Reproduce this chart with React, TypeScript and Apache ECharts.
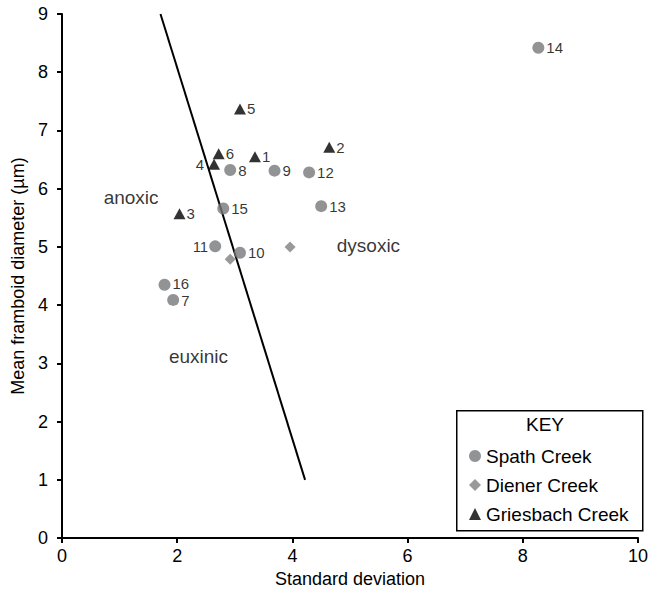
import React, { useEffect, useRef } from "react";
import * as echarts from "echarts";

// ---- data ----
const spathPoints: number[][] = [
  [1.78, 4.35], [1.93, 4.09], [2.92, 6.32], [3.69, 6.31], [3.09, 4.9],
  [2.66, 5.01], [4.29, 6.28], [4.5, 5.7], [8.27, 8.42], [2.8, 5.66],
];
const spathLabels = ["16", "7", "8", "9", "10", "11", "12", "13", "14", "15"];
const dienerPoints: number[][] = [[2.92, 4.79], [3.96, 5.0]];
const griesbachPoints: number[][] = [
  [3.35, 6.55], [4.64, 6.71], [2.04, 5.57], [2.64, 6.42], [3.09, 7.37], [2.72, 6.6],
];
const griesbachLabels = ["1", "2", "3", "4", "5", "6"];
const leftLabelled = ["4", "11"];
const boundaryLine: number[][] = [[1.71, 9], [4.22, 1]];
const regionNames = ["anoxic", "dysoxic", "euxinic"];
const regionPositions: number[][] = [[1.2, 5.85], [5.32, 5.03], [2.37, 3.11]];
const xRange = [0, 10];
const yRange = [0, 9];

const FONT = "'Liberation Sans', Arial, sans-serif";

function labelOffset(name: string) {
  if (name === "16") return [0, -1];
  if (name === "7") return [0, 1];
  return [0, 0];
}

function labelled(points: number[][], labels: string[]) {
  return points.map((p, i) => ({
    value: [p[0], p[1]],
    name: labels[i],
    label: leftLabelled.includes(labels[i])
      ? { position: "left", distance: labels[i] === "4" ? 4 : 1 }
      : { position: "right", offset: labelOffset(labels[i]) },
  }));
}

export default function App() {
  const ref = useRef<HTMLDivElement>(null);
  useEffect(() => {
    if (!ref.current) return;
    const chart = echarts.init(ref.current, undefined, { renderer: "svg" });
    const ptLabel = {
      show: true,
      formatter: (p: any) => p.name,
      fontSize: 15,
      lineHeight: 13,
      fontFamily: FONT,
      color: "#000",
      distance: 2,
    };
    chart.setOption({
      animation: false,
      backgroundColor: "#fff",
      textStyle: { fontFamily: FONT },
      grid: { left: 62, right: 11, top: 14, bottom: 52 },
      xAxis: {
        type: "value",
        min: xRange[0],
        max: xRange[1],
        interval: 2,
        name: "Standard deviation",
        nameLocation: "middle",
        nameGap: 31,
        nameTextStyle: { fontSize: 18, color: "#000", fontFamily: FONT },
        axisLine: { lineStyle: { color: "#000", width: 2 } },
        axisTick: { show: true, length: 5, inside: false, lineStyle: { color: "#000", width: 2 } },
        axisLabel: { fontSize: 18, color: "#000", margin: 9, fontFamily: FONT },
        splitLine: { show: false },
      },
      yAxis: {
        type: "value",
        min: yRange[0],
        max: yRange[1],
        interval: 1,
        name: "Mean framboid diameter (µm)",
        nameLocation: "middle",
        nameRotate: 90,
        nameGap: 33,
        nameTextStyle: { fontSize: 18, color: "#000", fontFamily: FONT },
        axisLine: { show: true, lineStyle: { color: "#000", width: 2 } },
        axisTick: { show: true, length: 5, lineStyle: { color: "#000", width: 2 } },
        axisLabel: { fontSize: 18, color: "#000", margin: 14, fontFamily: FONT },
        splitLine: { show: false },
      },
      legend: {
        orient: "vertical",
        left: 469,
        top: 446,
        padding: 0,
        itemWidth: 12,
        itemHeight: 12,
        itemGap: 9,
        textStyle: { fontSize: 19, color: "#000", fontFamily: FONT, lineHeight: 20 },
        data: ["Spath Creek", "Diener Creek", "Griesbach Creek"],
      },
      graphic: [
        {
          type: "rect",
          left: 456,
          top: 410,
          shape: { width: 186, height: 120 },
          style: { fill: "#fff", stroke: "#000", lineWidth: 1.5 },
          z: 0,
        },
        {
          type: "text",
          left: 526,
          top: 415,
          style: { text: "KEY", fontSize: 19, fill: "#000", fontFamily: FONT },
          z: 1,
        },
      ],
      series: [
        {
          type: "line",
          data: boundaryLine,
          showSymbol: false,
          symbol: "none",
          silent: true,
          lineStyle: { color: "#000", width: 2 },
          z: 1,
        },
        {
          name: "Spath Creek",
          type: "scatter",
          symbol: "circle",
          symbolSize: 12,
          itemStyle: { color: "#77787b" },
          label: ptLabel,
          data: labelled(spathPoints, spathLabels),
          z: 3,
        },
        {
          name: "Diener Creek",
          type: "scatter",
          symbol: "diamond",
          symbolSize: 11,
          itemStyle: { color: "#808080" },
          data: dienerPoints,
          z: 3,
        },
        {
          name: "Griesbach Creek",
          type: "scatter",
          symbol: "triangle",
          symbolSize: [12, 11],
          itemStyle: { color: "#000" },
          label: { ...ptLabel, distance: 1 },
          data: labelled(griesbachPoints, griesbachLabels),
          z: 3,
        },
        {
          type: "scatter",
          symbolSize: 1,
          silent: true,
          itemStyle: { color: "transparent" },
          label: {
            show: true,
            position: "inside",
            formatter: (p: any) => p.name,
            fontSize: 19,
            color: "#000",
            fontFamily: FONT,
          },
          data: regionPositions.map((p, i) => ({ value: p, name: regionNames[i] })),
        },
      ],
    });
    return () => chart.dispose();
  }, []);
  return (
    <div
      ref={ref}
      style={{ position: "absolute", left: 0, top: 0, width: 651, height: 593 }}
    />
  );
}
